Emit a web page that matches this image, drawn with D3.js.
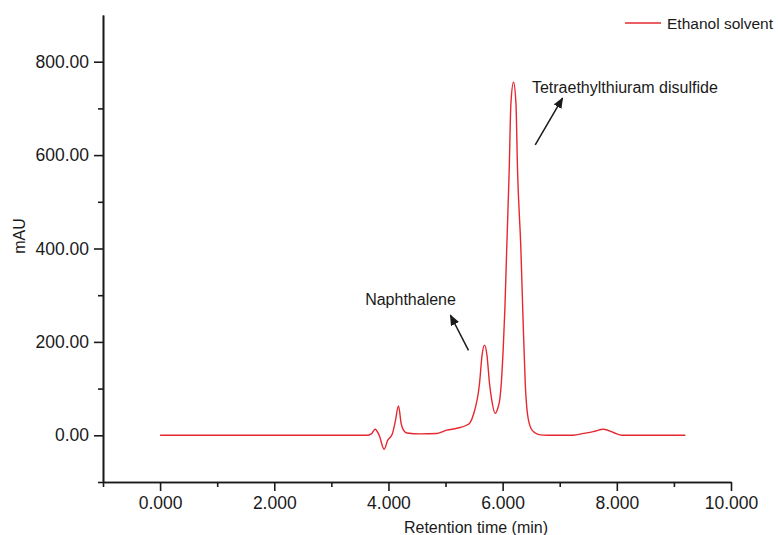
<!DOCTYPE html>
<html>
<head>
<meta charset="utf-8">
<script src="https://cdn.jsdelivr.net/npm/d3@7"></script>
<style>
  body { margin: 0; background: #fff; }
  svg { display: block; font-family: "Liberation Sans", Arial, sans-serif; }
</style>
</head>
<body>
<div id="chart"></div>
<script>
// chromatogram: retention time (min) vs absorbance (mAU)
const TIME = [0, 3.62, 3.70, 3.767, 3.837, 3.925, 3.99, 4.018, 4.07, 4.12, 4.176, 4.223, 4.263, 4.323,
  4.556, 4.848, 5.024, 5.199, 5.374, 5.43, 5.49, 5.595, 5.64, 5.683, 5.725, 5.77, 5.81, 5.87,
  5.92, 5.95, 5.98, 6.01, 6.04, 6.071, 6.115, 6.145, 6.191, 6.233, 6.261, 6.32, 6.356, 6.396,
  6.436, 6.50, 6.571, 6.659, 6.776, 7.01, 7.237, 7.417, 7.587, 7.768, 7.94, 8.09, 9.199];
const MAU = [0, 0, 3, 13, 0, -30, -10, -6, 4, 30, 63, 25, 11, 5,
  3, 4, 11, 15, 22, 27, 45, 111, 172, 193, 172, 111, 75, 47,
  60, 77, 118, 185, 273, 397, 568, 711, 756, 711, 568, 397, 254, 111,
  45, 14, 5, 1, 0, 0, 0, 4, 8, 13, 6, 0, 0];

const SERIES_NAME = "Ethanol solvent";
const X_TICKS = [0, 2, 4, 6, 8, 10];
const X_MINOR = [-1, 1, 3, 5, 7, 9];
const Y_TICKS = [0, 200, 400, 600, 800];
const Y_MINOR = [-100, 100, 300, 500, 700];
const X_TITLE = "Retention time (min)";
const Y_TITLE = "mAU";
const PEAK_LABELS = ["Naphthalene", "Tetraethylthiuram disulfide"];

const data = TIME.map((t, i) => ({ t, v: MAU[i] }));

/* ── Layout ── */
const totalW = 778, totalH = 535;
const margin = { top: 15, right: 47, bottom: 53, left: 103 };
const W = totalW - margin.left - margin.right;
const H = totalH - margin.top - margin.bottom;
const RED = "#e5282f";
const INK = "#1a1a1a";

const svg = d3.select("#chart").append("svg")
  .attr("width", totalW).attr("height", totalH);

const g = svg.append("g").attr("transform", `translate(${margin.left},${margin.top})`);

/* ── Scales ── */
const x = d3.scaleLinear().domain([-1, 10]).range([0, W]);
const y = d3.scaleLinear().domain([-100, 900]).range([H, 0]);

/* ── Curve ── */
const line = d3.line().x(d => x(d.t)).y(d => y(d.v)).curve(d3.curveMonotoneX);
g.append("path").datum(data)
  .attr("fill", "none").attr("stroke", RED).attr("stroke-width", 1.4)
  .attr("stroke-linejoin", "round")
  .attr("d", line);

/* ── Axes ── */
const styleAxis = ax => {
  ax.select(".domain").attr("stroke", INK).attr("stroke-width", 1.6);
  ax.selectAll(".tick line").attr("stroke", INK).attr("stroke-width", 1.6);
  ax.selectAll("text").attr("font-size", 17.5).attr("fill", INK)
    .attr("font-family", "Liberation Sans, Arial, sans-serif");
};

g.append("g").attr("transform", `translate(0,${H})`)
  .call(d3.axisBottom(x).tickValues(X_MINOR).tickSize(5).tickSizeOuter(0).tickFormat(""))
  .call(styleAxis);
g.append("g").attr("transform", `translate(0,${H})`)
  .call(d3.axisBottom(x).tickValues(X_TICKS).tickSize(9).tickSizeOuter(0).tickPadding(6)
    .tickFormat(d3.format(".3f")))
  .call(styleAxis);

g.append("g")
  .call(d3.axisLeft(y).tickValues(Y_MINOR).tickSize(5).tickSizeOuter(0).tickFormat(""))
  .call(styleAxis);
g.append("g")
  .call(d3.axisLeft(y).tickValues(Y_TICKS).tickSize(9).tickSizeOuter(0).tickPadding(5)
    .tickFormat(d3.format(".2f")))
  .call(styleAxis);

/* ── Axis titles ── */
svg.append("text")
  .attr("x", 476).attr("y", 533)
  .attr("text-anchor", "middle").attr("font-size", 16).attr("fill", INK)
  .text(X_TITLE);

svg.append("text")
  .attr("transform", "translate(25,236) rotate(-90)")
  .attr("text-anchor", "middle").attr("font-size", 16).attr("fill", INK)
  .text(Y_TITLE);

/* ── Annotations (arrows placed in data units) ── */
svg.append("defs").append("marker")
  .attr("id", "head").attr("viewBox", "0 0 10 10")
  .attr("refX", 9).attr("refY", 5)
  .attr("markerWidth", 11).attr("markerHeight", 9)
  .attr("markerUnits", "userSpaceOnUse")
  .attr("orient", "auto")
  .attr("preserveAspectRatio", "none")
  .append("path").attr("d", "M0,0 L10,5 L0,10 z").attr("fill", INK);

const notes = [
  { text: PEAK_LABELS[0], tx: 3.592, ty: 280, from: [5.402, 182], to: [5.086, 257] },
  { text: PEAK_LABELS[1], tx: 6.513, ty: 734, from: [6.571, 622], to: [7.049, 722] }
];
notes.forEach(n => {
  g.append("text")
    .attr("x", x(n.tx)).attr("y", y(n.ty))
    .attr("font-size", 16).attr("fill", INK)
    .text(n.text);
  g.append("line")
    .attr("x1", x(n.from[0])).attr("y1", y(n.from[1]))
    .attr("x2", x(n.to[0])).attr("y2", y(n.to[1]))
    .attr("stroke", INK).attr("stroke-width", 1.5)
    .attr("marker-end", "url(#head)");
});

/* ── Legend ── */
const legend = svg.append("g").attr("transform", "translate(625,23)");
legend.append("line").attr("x1", 0).attr("x2", 36).attr("y1", 0).attr("y2", 0)
  .attr("stroke", RED).attr("stroke-width", 1.4);
legend.append("text").attr("x", 42).attr("y", 5.5)
  .attr("font-size", 15.5).attr("fill", INK)
  .text(SERIES_NAME);
</script>
</body>
</html>
